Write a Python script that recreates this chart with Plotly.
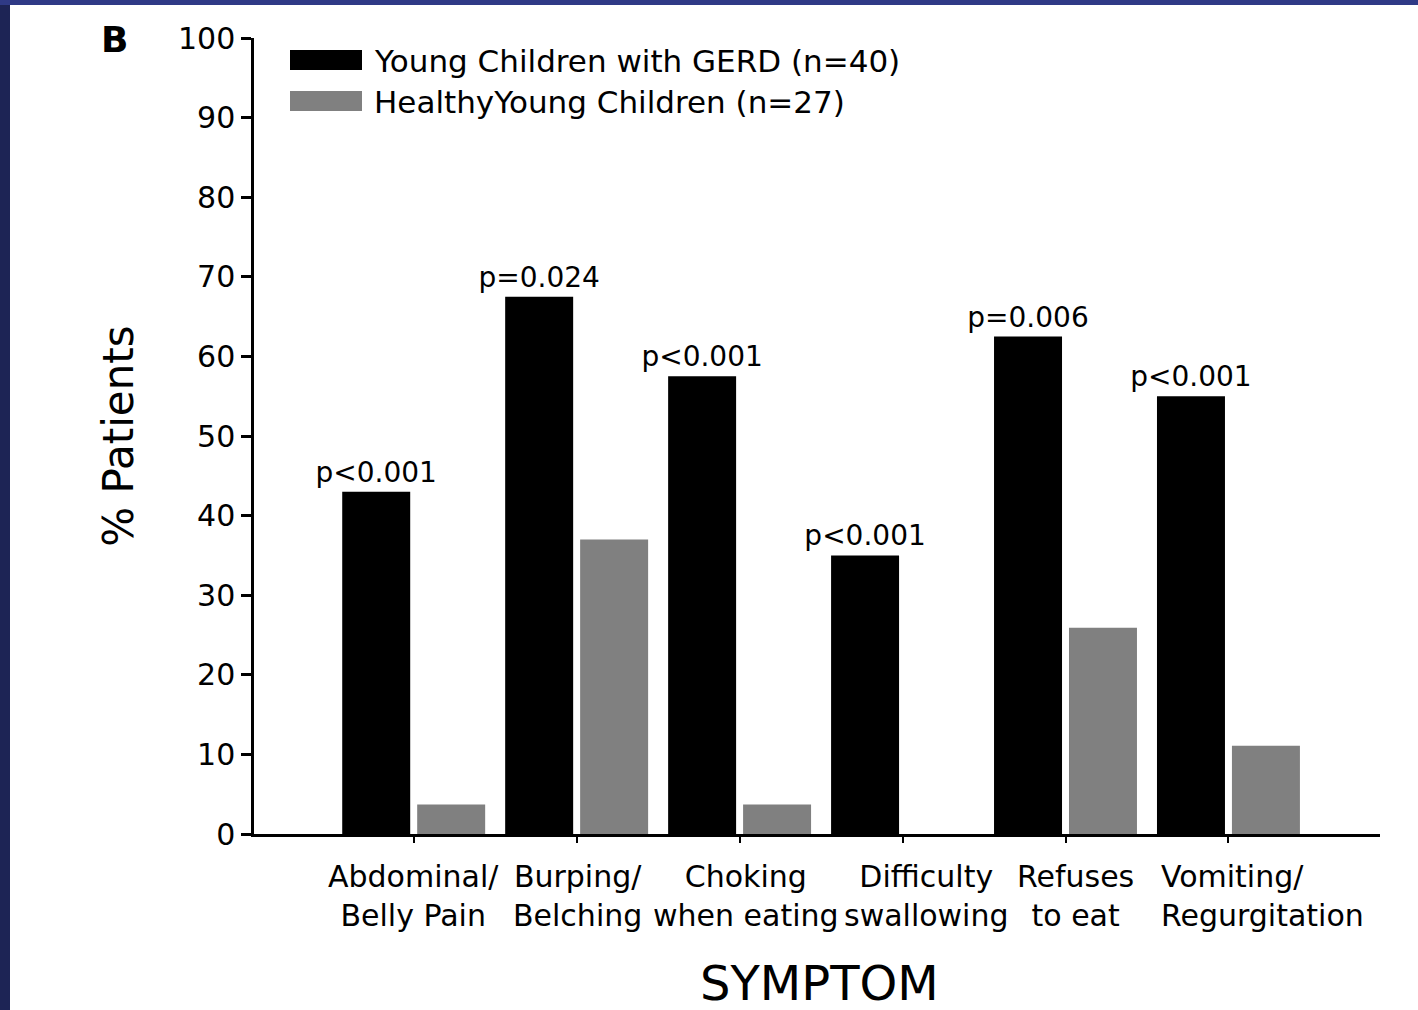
import plotly.graph_objects as go

# ---- data ----
categories = ["Abdominal/ Belly Pain", "Burping/ Belching", "Choking when eating",
              "Difficulty swallowing", "Refuses to eat", "Vomiting/ Regurgitation"]
category_labels = ["Abdominal/<br>Belly Pain", "Burping/<br>Belching", "Choking<br>when eating",
                   "Difficulty<br>swallowing", "Refuses<br>to eat", "Vomiting/<br>Regurgitation"]
gerd_values = [43, 67.5, 57.5, 35, 62.5, 55]
healthy_values = [3.7, 37.0, 3.7, 0, 25.9, 11.1]
p_labels = ["p<0.001", "p=0.024", "p<0.001", "p<0.001", "p=0.006", "p<0.001"]
series_names = ["Young Children with GERD (n=40)", "HealthyYoung Children (n=27)"]
y_ticks = [0, 10, 20, 30, 40, 50, 60, 70, 80, 90, 100]

# label nudges (pixels) and alignment so the category labels sit as in the original
label_xshift = [0, 1, 6, 24, 10, 34]
label_align = ["center", "center", "center", "center", "center", "left"]

FONT = "DejaVu Sans"
BLACK = "#000000"
GRAY = "#808080"

fig = go.Figure()
fig.add_trace(go.Bar(
    x=categories, y=gerd_values, name=series_names[0],
    marker=dict(color=BLACK, line=dict(width=0)),
    text=p_labels, textposition="outside", constraintext="none",
    textfont=dict(family=FONT, size=28, color="black"),
    cliponaxis=False, showlegend=False, hoverinfo="x+y",
))
fig.add_trace(go.Bar(
    x=categories, y=healthy_values, name=series_names[1],
    marker=dict(color=GRAY, line=dict(width=0)),
    showlegend=False, hoverinfo="x+y",
))

L, R, T, B = 254, 38, 38, 176
W, H = 1418, 1010
pw, ph = W - L - R, H - T - B


def px_x(p):
    return (p - L) / pw


def px_y(p):
    return (H - B - p) / ph


shapes = [
    # slide frame strips
    dict(type="rect", xref="paper", yref="paper", x0=px_x(0), x1=px_x(10), y0=px_y(H), y1=px_y(0),
         fillcolor="#1d2455", line=dict(width=0), layer="above"),
    dict(type="rect", xref="paper", yref="paper", x0=px_x(0), x1=px_x(W), y0=px_y(5), y1=px_y(0),
         fillcolor="#2f3a86", line=dict(width=0), layer="above"),
    # legend swatches
    dict(type="rect", xref="paper", yref="paper", x0=px_x(290), x1=px_x(362), y0=px_y(70), y1=px_y(50),
         fillcolor=BLACK, line=dict(width=0)),
    dict(type="rect", xref="paper", yref="paper", x0=px_x(290), x1=px_x(362), y0=px_y(111), y1=px_y(91),
         fillcolor=GRAY, line=dict(width=0)),
]

annotations = [
    dict(text=series_names[0], xref="paper", yref="paper", x=px_x(372), y=px_y(61),
         xanchor="left", yanchor="middle", showarrow=False,
         font=dict(family=FONT, size=31, color="black")),
    dict(text=series_names[1], xref="paper", yref="paper", x=px_x(372), y=px_y(102),
         xanchor="left", yanchor="middle", showarrow=False,
         font=dict(family=FONT, size=31, color="black")),
    dict(text="<b>B</b>", xref="paper", yref="paper", x=px_x(114), y=px_y(40),
         xanchor="center", yanchor="middle", showarrow=False,
         font=dict(family=FONT, size=36, color="black")),
    dict(text="SYMPTOM", xref="paper", yref="paper", x=px_x(819), y=px_y(983),
         xanchor="center", yanchor="middle", showarrow=False,
         font=dict(family=FONT, size=48, color="black")),
]
for cat, lab, dx, al in zip(categories, category_labels, label_xshift, label_align):
    annotations.append(dict(
        text=lab, x=cat, y=0, xref="x", yref="y", xanchor="center", yanchor="top",
        align=al, showarrow=False, xshift=dx, yshift=-23,
        font=dict(family=FONT, size=30, color="black"),
    ))

fig.update_layout(
    width=W, height=H, autosize=False,
    margin=dict(l=L, r=R, t=T, b=B, pad=0),
    paper_bgcolor="white", plot_bgcolor="white",
    barmode="group", bargap=0.08, bargroupgap=0.093,
    font=dict(family=FONT, color="black"),
    shapes=shapes, annotations=annotations,
    showlegend=False,
)
fig.update_xaxes(
    range=[-0.98, 5.93], showgrid=False, zeroline=False,
    showline=True, linecolor="black", linewidth=2.5,
    ticks="outside", ticklen=6, tickwidth=2, tickcolor="black",
    showticklabels=False,
    automargin=False,
)
fig.update_yaxes(
    range=[0, 100], tickvals=y_ticks, showgrid=False, zeroline=False,
    showline=True, linecolor="black", linewidth=2.5,
    ticks="outside", ticklen=10, tickwidth=2.5, tickcolor="black",
    tickfont=dict(family=FONT, size=30, color="black"),
    title=dict(text="% Patients", font=dict(family=FONT, size=42, color="black"), standoff=32),
    automargin=False,
)

fig.write_html("out.html")
